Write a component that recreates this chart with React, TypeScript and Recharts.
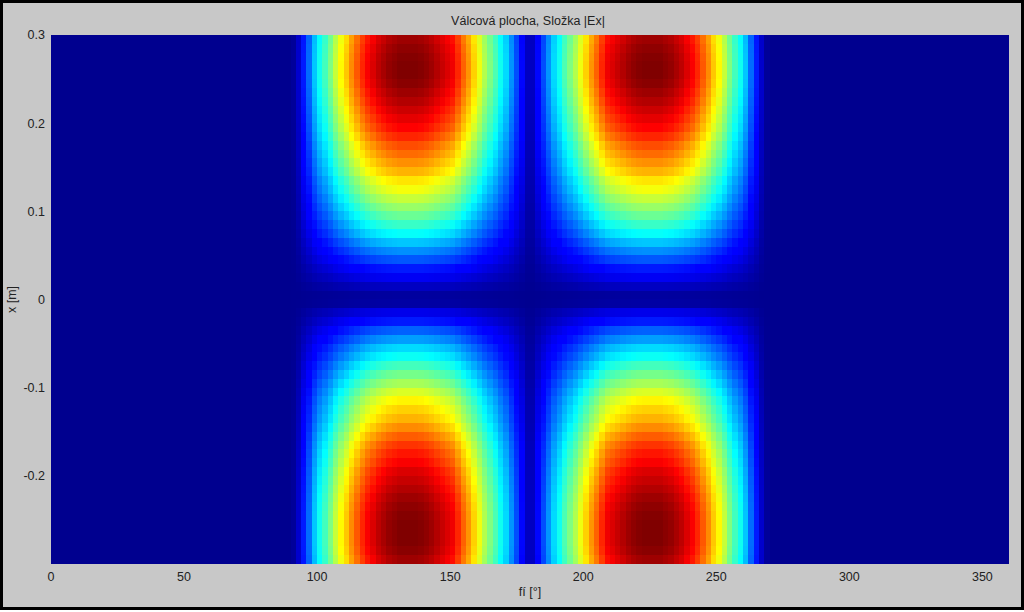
import React from "react";
import { ScatterChart, Scatter, XAxis, YAxis, ReferenceArea } from "recharts";

const xTicks = [0, 50, 100, 150, 200, 250, 300, 350];
const yTicks = [0.3, 0.2, 0.1, 0, -0.1, -0.2];
const titleText = "Válcová plocha, Složka |Ex|";

// Angle cell centres (degrees); everything outside them is the zero background.
const leftPhi = [91,93,95,97,99,101,103,105,107,109,111,113,115,117,119,121,123,125,127,129,131,133,135,137,139,141,143,145,147,149,151,153,155,157,159,161,163,165,167,169,171,173,175,177,179];
const leftWeight = [.01,.06,.15,.23,.32,.39,.44,.5,.57,.63,.68,.74,.79,.84,.88,.91,.94,.96,.98,.99,1,1,1,1,.995,.985,.97,.95,.93,.91,.89,.84,.78,.73,.67,.61,.55,.5,.45,.39,.34,.27,.2,.13,.05];
const rightPhi = [181,183,185,187,189,191,193,195,197,199,201,203,205,207,209,211,213,215,217,219,221,223,225,227,229,231,233,235,237,239,241,243,245,247,249,251,253,255,257,259,261,263,265,267,269];
const rightWeight = [.05,.13,.2,.27,.34,.39,.45,.5,.55,.61,.67,.73,.78,.84,.89,.91,.93,.95,.97,.985,.995,1,1,1,1,.99,.98,.96,.94,.91,.88,.84,.79,.74,.68,.63,.57,.5,.44,.39,.32,.23,.15,.06,.01];

// Height cell centres (metres) and the strength read along the lobe centre.
const heights = [.295,.285,.275,.265,.255,.245,.235,.225,.215,.205,.195,.185,.175,.165,.155,.145,.135,.125,.115,.105,.095,.085,.075,.065,.055,.045,.035,.025,.015,.005,-.005,-.015,-.025,-.035,-.045,-.055,-.065,-.075,-.085,-.095,-.105,-.115,-.125,-.135,-.145,-.155,-.165,-.175,-.185,-.195,-.205,-.215,-.225,-.235,-.245,-.255,-.265,-.275,-.285,-.295];
const heightWeight = [.97,.985,.995,1,1,.99,.97,.95,.925,.9,.875,.84,.8,.77,.735,.7,.65,.615,.57,.525,.48,.43,.38,.32,.265,.21,.15,.1,.05,.015,.02,.09,.15,.22,.28,.34,.385,.44,.49,.54,.59,.635,.67,.7,.74,.785,.825,.855,.88,.91,.93,.95,.97,.985,.995,1,1,1,.99,.97];

const phis = [...leftPhi, ...rightPhi];
const phiWeights = [...leftWeight, ...rightWeight];
const cells = phis.flatMap((phi, i) =>
  heights.map((h, j) => ({ phi, h, v: phiWeights[i] * heightWeight[j] }))
);

const W = 1024, H = 612;
const M = { top: 35, right: 15, bottom: 48, left: 51 };
const cw = (W - M.left - M.right) / 180;
const ch = (H - M.top - M.bottom) / 60;

function jet(v: number) {
  const c = (x: number) => Math.round(255 * Math.max(0, Math.min(1, x)));
  const t = 4 * v;
  return `rgb(${c(Math.min(t - 1.5, 4.5 - t))},${c(Math.min(t - 0.5, 3.5 - t))},${c(Math.min(t + 0.5625, 2.5 - t))})`;
}

const Cell = (p: any) => {
  const x0 = Math.round(p.cx - cw / 2), x1 = Math.round(p.cx + cw / 2);
  const y0 = Math.round(p.cy - ch / 2), y1 = Math.round(p.cy + ch / 2);
  return <rect x={x0} y={y0} width={x1 - x0} height={y1 - y0} fill={jet(p.payload.v)} shapeRendering="crispEdges" />;
};

const font = "'Liberation Sans', Arial, sans-serif";
const tickStyle = { fontSize: 12.5, fill: "#222", fontFamily: font };

export default function App() {
  return (
    <div style={{ position: "absolute", left: 0, top: 0, width: W, height: H, background: "#fff" }}>
      <div style={{ position: "absolute", left: 0, top: 0, width: 1024, height: 610, boxSizing: "border-box", background: "#c8c8c8", border: "3px solid #000" }} />
      <div style={{ position: "absolute", left: 0, top: 0 }}>
        <ScatterChart width={W} height={H} margin={{ top: M.top, right: M.right, bottom: 0, left: 10 }}>
          <XAxis type="number" dataKey="phi" domain={[0, 360]} ticks={xTicks} height={M.bottom} tickLine={false} axisLine={false} tick={tickStyle} tickMargin={2} interval={0}
            label={{ value: "fí [°]", position: "insideTop", offset: 23, style: tickStyle }} />
          <YAxis type="number" dataKey="h" domain={[-0.3, 0.3]} ticks={yTicks} width={41} tickLine={false} axisLine={false} tick={tickStyle} tickMargin={0} interval={0}
            label={{ value: "x [m]", angle: -90, position: "insideLeft", offset: 2, style: { ...tickStyle, textAnchor: "middle" } }} />
          <ReferenceArea x1={0} x2={360} y1={-0.3} y2={0.3} fill="#00008f" fillOpacity={1} stroke="none" />
          <Scatter data={cells} isAnimationActive={false} shape={Cell} />
          <text x={528} y={25} textAnchor="middle" style={tickStyle}>{titleText}</text>
        </ScatterChart>
      </div>
    </div>
  );
}
